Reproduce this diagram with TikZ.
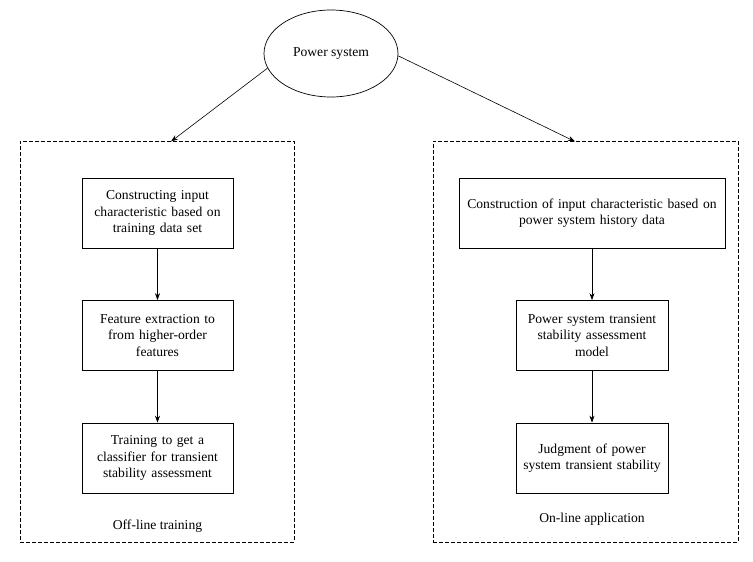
\documentclass[tikz,border=0pt]{standalone}
\usepackage{fontspec}
\setmainfont{Liberation Serif}
\usetikzlibrary{shapes.geometric,arrows.meta}
\tikzset{
  box/.style={draw, line width=0.7pt, minimum height=70pt, align=center, inner sep=1pt, font=\fontsize{13.6}{16.5}\selectfont},
  frame/.style={draw, line width=0.7pt, dash pattern=on 4pt off 2pt},
  lbl/.style={font=\fontsize{13.6}{16.5}\selectfont},
  arr/.style={line width=0.6pt, -{Stealth[length=7pt,width=5pt]}}
}
\begin{document}
\begin{tikzpicture}[x=1pt,y=-1pt]
\useasboundingbox (0,0) rectangle (753,562);
\node[ellipse, draw, line width=0.7pt, minimum width=134pt, minimum height=87pt, lbl] (ps) at (331,53.5) {Power system};
\node[frame, minimum width=274pt, minimum height=401pt] (off) at (157,341.5) {};
\node[frame, minimum width=305pt, minimum height=401pt] (on) at (585.5,341.5) {};
\coordinate (offin) at (171,141.5);
\coordinate (onin) at (575,141.5);
\node[box, text width=149pt, minimum width=151pt] (a1) at (157.5,213) {Constructing input\\characteristic based on\\training data set};
\node[box, text width=149pt, minimum width=151pt] (a2) at (157.5,335.5) {Feature extraction to\\from higher-order\\features};
\node[box, text width=149pt, minimum width=151pt] (a3) at (157.5,458) {Training to get a\\classifier for transient\\stability assessment};
\node[box, text width=264pt, minimum width=266pt] (b1) at (592,213) {Construction of input characteristic based on\\power system history data};
\node[box, text width=150pt, minimum width=152pt] (b2) at (592,335.5) {Power system transient\\stability assessment\\model};
\node[box, text width=150pt, minimum width=152pt] (b3) at (592,458) {Judgment of power\\system transient stability};
\node[lbl] (offl) at (157.5,526) {Off-line training};
\node[lbl] (onl) at (592,519) {On-line application};
\draw[arr] (ps.193) -- (offin);
\draw[arr] (ps.-2) -- (onin);
\draw[arr] (a1) -- (a2);
\draw[arr] (a2) -- (a3);
\draw[arr] (b1) -- (b2);
\draw[arr] (b2) -- (b3);
\end{tikzpicture}
\end{document}
